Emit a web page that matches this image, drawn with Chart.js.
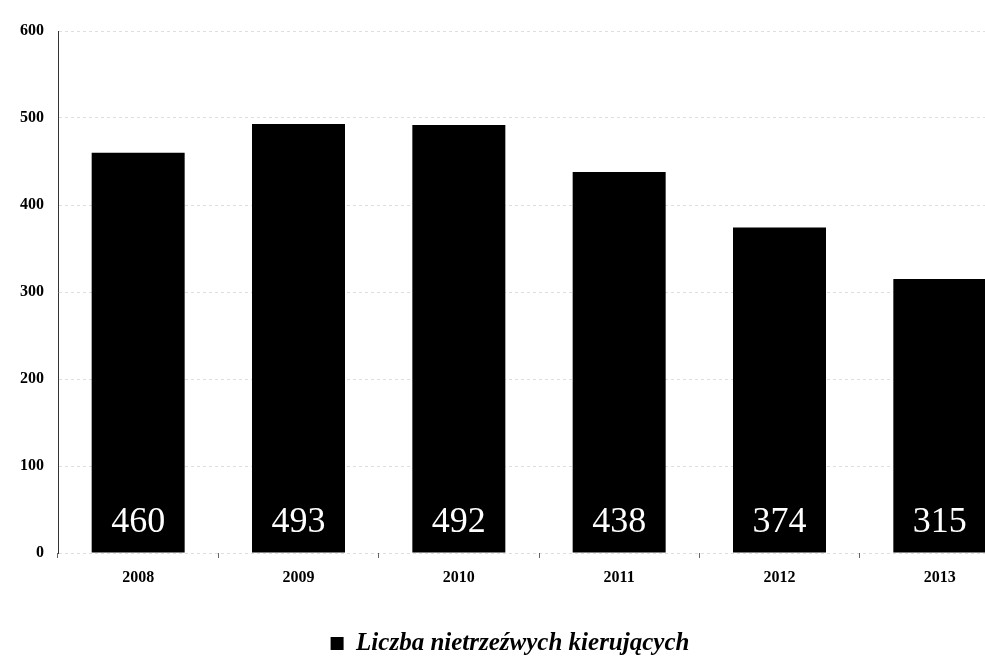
<!DOCTYPE html>
<html lang="pl">
<head>
<meta charset="utf-8">
<title>Liczba nietrzeźwych kierujących</title>
<script src="https://cdn.jsdelivr.net/npm/chart.js@4.4.1/dist/chart.umd.min.js"></script>
<style>
  html,body{margin:0;padding:0;background:#fff;overflow:hidden;}
  /* the plot runs a little past the right and bottom edge, like the scan */
  #wrap{position:relative;width:1022px;height:666px;}
</style>
</head>
<body>
<div id="wrap"><canvas id="chart"></canvas></div>
<script>
'use strict';

/* ── data ── */
const years=['2008','2009','2010','2011','2012','2013'];
const drunkDrivers=[460,493,492,438,374,315];
const seriesLabel='Liczba nietrzeźwych kierujących';
const yTicks=[0,100,200,300,400,500,600];

const SERIF="'Liberation Serif','DejaVu Serif',serif";

/* values written in white near the foot of every bar */
const baseLabels={
  id:'baseLabels',
  afterDatasetsDraw(chart){
    const ctx=chart.ctx;
    const meta=chart.getDatasetMeta(0);
    const yBase=chart.scales.y.getPixelForValue(0);
    ctx.save();
    ctx.fillStyle='#fff';
    ctx.font='36px '+SERIF;
    ctx.textAlign='center';
    ctx.textBaseline='alphabetic';
    meta.data.forEach((bar,i)=>{
      ctx.fillText(String(drunkDrivers[i]),bar.x,yBase-21);
    });
    ctx.restore();
  }
};

new Chart(document.getElementById('chart'),{
  type:'bar',
  data:{
    labels:years,
    datasets:[{
      label:seriesLabel,
      data:drunkDrivers,
      backgroundColor:'#000',
      borderWidth:0,
      barPercentage:0.58,
      categoryPercentage:1
    }]
  },
  options:{
    responsive:true,maintainAspectRatio:false,
    animation:false,
    layout:{padding:{top:31,right:2,bottom:0,left:0}},
    plugins:{
      tooltip:{enabled:false},
      legend:{
        position:'bottom',
        labels:{
          color:'#000',boxWidth:13,boxHeight:13,padding:4,
          font:{family:SERIF,size:25,style:'italic',weight:'bold'}
        }
      }
    },
    scales:{
      x:{
        afterFit(s){s.height=74;},
        grid:{display:true,drawOnChartArea:false,color:'#666',tickLength:5},
        border:{display:false},
        ticks:{color:'#000',padding:10,font:{family:SERIF,size:16,weight:'bold'}}
      },
      y:{
        min:0,max:600,
        afterFit(s){s.width=58;},
        afterBuildTicks(s){s.ticks=yTicks.map(v=>({value:v}));},
        // grid lines in the scan are only faint dots
        grid:{color:'rgba(0,0,0,0.13)',lineWidth:1,drawTicks:false},
        border:{display:true,color:'#333',width:1,dash:[3,3]},
        ticks:{color:'#000',padding:14,font:{family:SERIF,size:16,weight:'bold'}}
      }
    }
  },
  plugins:[baseLabels]
});
</script>
</body>
</html>
